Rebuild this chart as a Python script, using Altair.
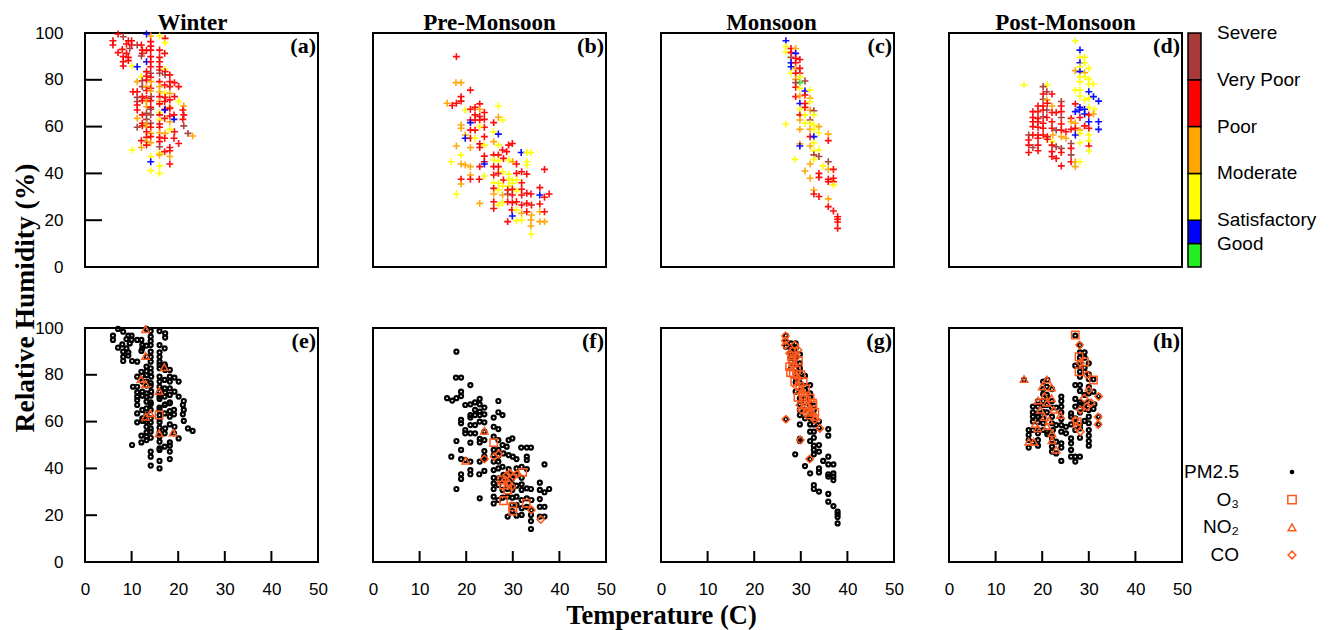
import altair as alt
import pandas as pd

# ---------------- data ----------------
SEASONS = ["Winter", "Pre-Monsoon", "Monsoon", "Post-Monsoon"]
TOP_TAGS = ["(a)", "(b)", "(c)", "(d)"]
BOT_TAGS = ["(e)", "(f)", "(g)", "(h)"]

CATS = ["Good", "Satisfactory", "Moderate", "Poor", "Very Poor", "Severe"]
CAT_COLORS = ["#22ee22", "#0000ff", "#ffff00", "#ffa500", "#ff0000", "#a83a3a"]
CAT_LO = [0, 50, 100, 200, 300, 400]
CAT_HI = [50, 100, 200, 300, 400, 500]
CODE = {"G": "Good", "SA": "Satisfactory", "M": "Moderate", "P": "Poor", "VP": "Very Poor", "S": "Severe"}

X_TICKS = [0, 10, 20, 30, 40, 50]
Y_TICKS = [0, 20, 40, 60, 80, 100]
X_INNER = [10, 20, 30, 40]
Y_INNER = [20, 40, 60, 80]

LEG_NAMES = ["PM2.5", "O\u2083", "NO\u2082", "CO"]

# (temperature, relative humidity, AQI category code)
WINTER = [
    (7.1, 99.6, "VP"), (8.2, 98.4, "S"), (13.2, 99.6, "SA"), (14.1, 98.7, "P"), (16.0, 98.7, "M"), (17.2, 97.7, "VP"),
    (6.0, 96.7, "VP"), (9.3, 96.7, "VP"), (10.0, 96.7, "VP"), (14.1, 96.3, "VP"), (17.2, 95.9, "M"),
    (6.0, 94.9, "VP"), (8.9, 95.3, "VP"), (10.0, 94.9, "VP"), (11.2, 94.9, "S"), (12.1, 94.9, "VP"), (14.1, 94.4, "VP"),
    (8.0, 93.0, "VP"), (9.6, 93.4, "S"), (12.3, 92.7, "VP"), (14.1, 92.7, "VP"), (16.0, 92.7, "VP"),
    (7.1, 91.6, "VP"), (8.9, 91.3, "VP"), (12.3, 91.3, "VP"), (13.2, 92.5, "VP"), (17.1, 91.3, "VP"),
    (8.2, 89.9, "VP"), (9.3, 89.6, "VP"), (12.1, 90.2, "S"), (14.1, 89.9, "VP"), (16.0, 89.6, "VP"),
    (8.2, 87.7, "VP"), (9.3, 88.2, "VP"), (13.2, 87.7, "SA"), (14.1, 87.7, "VP"), (16.0, 87.7, "VP"),
    (8.2, 85.9, "VP"), (10.1, 85.9, "M"), (11.2, 85.6, "SA"), (14.1, 85.6, "VP"), (16.0, 85.6, "VP"),
    (13.2, 83.5, "VP"), (14.1, 82.8, "S"), (16.0, 84.2, "VP"), (17.1, 84.5, "M"), (17.2, 83.5, "VP"),
    (12.1, 81.3, "M"), (13.2, 81.6, "VP"), (14.1, 81.1, "VP"), (16.0, 82.8, "S"), (17.2, 82.1, "S"), (18.2, 82.1, "VP"),
    (11.2, 79.2, "P"), (12.3, 79.6, "S"), (13.2, 79.9, "VP"), (14.2, 79.2, "P"), (16.0, 79.2, "VP"), (18.2, 79.2, "VP"), (19.2, 78.8, "VP"),
    (12.3, 77.1, "S"), (13.2, 77.1, "P"), (14.1, 76.4, "VP"), (16.0, 77.1, "P"), (17.1, 77.8, "VP"), (18.2, 77.1, "VP"), (20.1, 77.1, "VP"),
    (10.3, 74.9, "VP"), (11.2, 74.9, "VP"), (13.2, 75.4, "VP"), (14.1, 75.2, "P"), (16.0, 74.9, "P"), (17.1, 74.2, "M"), (18.2, 74.2, "P"),
    (11.2, 72.5, "S"), (12.3, 72.8, "VP"), (13.2, 72.1, "VP"), (14.2, 72.8, "S"), (16.0, 72.8, "VP"), (17.2, 72.5, "VP"), (19.2, 72.8, "VP"),
    (11.2, 70.7, "S"), (12.3, 71.1, "VP"), (13.2, 70.7, "P"), (14.1, 71.1, "VP"), (16.0, 70.7, "P"), (17.1, 70.7, "VP"), (18.2, 71.4, "VP"), (20.1, 70.7, "M"),
    (11.2, 69.2, "VP"), (13.2, 68.5, "P"), (14.1, 68.2, "VP"), (16.0, 69.7, "VP"), (17.2, 67.4, "VP"), (18.2, 68.2, "P"), (21.2, 68.8, "P"),
    (11.2, 67.1, "VP"), (14.1, 67.4, "S"), (16.0, 66.0, "M"), (17.1, 67.1, "SA"), (18.2, 67.8, "VP"), (21.0, 67.1, "VP"),
    (12.3, 65.0, "VP"), (13.2, 65.7, "S"), (14.1, 65.0, "S"), (16.0, 65.0, "VP"), (18.2, 64.5, "VP"), (19.1, 65.0, "VP"), (21.2, 65.0, "VP"),
    (11.2, 63.5, "P"), (13.2, 63.1, "S"), (16.0, 62.8, "M"), (17.1, 63.5, "VP"), (19.1, 63.1, "SA"), (21.0, 63.1, "VP"),
    (12.3, 61.4, "VP"), (13.2, 61.1, "P"), (14.1, 61.4, "S"), (16.0, 61.1, "VP"), (18.2, 62.1, "P"),
    (11.2, 59.7, "S"), (12.3, 60.3, "VP"), (13.2, 60.0, "P"), (14.1, 59.7, "VP"), (16.0, 59.7, "VP"), (21.2, 60.3, "S"),
    (13.2, 57.8, "VP"), (14.1, 57.1, "P"), (16.0, 57.4, "P"), (17.2, 57.1, "P"), (18.2, 58.8, "M"), (19.2, 57.8, "VP"), (22.1, 57.1, "S"), (23.1, 56.0, "P"),
    (13.2, 55.4, "VP"), (14.1, 55.7, "VP"), (16.0, 55.4, "VP"), (17.1, 55.0, "VP"), (19.1, 55.0, "VP"),
    (12.1, 54.0, "VP"), (13.2, 53.6, "P"), (14.1, 53.1, "P"), (16.0, 53.6, "VP"), (20.1, 52.8, "VP"),
    (12.1, 51.1, "P"), (13.2, 52.1, "VP"), (16.0, 51.4, "S"), (18.2, 51.1, "VP"),
    (10.1, 50.0, "M"), (16.0, 48.6, "M"), (17.1, 49.3, "VP"), (18.2, 49.7, "VP"),
    (14.1, 47.2, "M"), (16.0, 47.9, "P"), (18.2, 47.2, "P"),
    (14.1, 45.0, "SA"), (18.2, 44.0, "VP"), (16.0, 43.2, "M"), (14.1, 41.2, "M"), (16.0, 40.0, "M"),
]

PRE_MONSOON = [
    (17.9, 89.9, "VP"), (17.8, 78.8, "P"), (18.9, 78.8, "P"), (20.9, 75.6, "VP"),
    (18.9, 72.8, "VP"), (18.9, 70.9, "VP"), (15.9, 70.0, "P"), (17.0, 69.0, "VP"), (17.9, 70.0, "VP"),
    (19.8, 67.1, "M"), (20.9, 67.4, "VP"), (21.9, 68.2, "VP"), (22.9, 69.7, "VP"), (22.9, 67.4, "P"), (23.9, 66.0, "VP"), (26.9, 68.8, "M"),
    (21.9, 65.0, "VP"), (22.9, 64.3, "VP"), (20.9, 62.8, "VP"), (21.9, 62.8, "VP"), (22.9, 62.8, "VP"), (23.9, 63.1, "VP"), (26.9, 64.0, "P"), (27.8, 62.8, "M"),
    (20.9, 61.7, "SA"), (18.9, 60.7, "P"), (25.9, 61.7, "VP"),
    (18.9, 59.3, "P"), (21.9, 58.5, "VP"), (20.9, 58.5, "VP"), (23.9, 59.7, "VP"), (22.9, 60.0, "M"),
    (19.8, 56.4, "P"), (19.8, 55.0, "SA"), (20.9, 55.0, "VP"), (21.9, 55.0, "M"), (23.9, 55.7, "VP"), (26.9, 56.8, "SA"), (25.9, 57.8, "M"),
    (22.9, 52.6, "VP"), (23.9, 52.1, "M"), (22.9, 51.1, "VP"), (25.9, 53.6, "P"), (26.9, 52.1, "M"), (29.1, 52.1, "VP"), (29.9, 52.8, "VP"),
    (17.9, 51.7, "P"), (20.9, 51.0, "P"), (18.9, 47.9, "M"), (16.8, 45.0, "M"), (18.9, 44.0, "P"),
    (23.9, 47.4, "VP"), (25.9, 47.9, "VP"), (26.9, 47.9, "VP"), (27.8, 50.0, "VP"), (28.7, 49.3, "VP"), (23.9, 45.0, "VP"),
    (25.9, 45.7, "M"), (26.9, 45.4, "M"), (28.0, 46.4, "VP"), (29.1, 45.7, "M"),
    (31.8, 48.9, "SA"), (33.0, 48.9, "M"), (33.9, 48.9, "M"),
    (19.8, 43.6, "P"), (20.9, 42.9, "P"), (22.9, 42.9, "VP"), (23.9, 44.0, "SA"), (25.9, 42.9, "VP"), (26.9, 42.9, "VP"),
    (30.0, 45.0, "P"), (30.8, 44.0, "VP"), (33.0, 45.0, "M"), (33.0, 43.6, "M"),
    (20.9, 39.3, "P"), (20.9, 37.5, "VP"), (23.9, 38.9, "M"), (22.8, 37.5, "VP"), (25.9, 39.3, "VP"), (26.9, 40.0, "VP"),
    (27.8, 40.7, "M"), (29.1, 39.7, "M"), (30.8, 40.0, "VP"), (31.9, 40.7, "VP"), (33.0, 39.7, "VP"),
    (18.9, 37.5, "VP"), (18.9, 35.5, "P"), (17.9, 31.2, "M"),
    (25.9, 36.0, "M"), (26.9, 35.8, "M"), (28.0, 37.2, "VP"), (29.1, 37.5, "M"), (29.9, 37.2, "M"), (30.8, 37.2, "M"),
    (31.9, 36.0, "VP"), (27.8, 34.6, "M"), (29.1, 34.6, "M"), (29.9, 35.8, "M"),
    (25.9, 33.6, "VP"), (26.9, 32.9, "M"), (28.9, 32.9, "VP"), (29.9, 33.2, "VP"), (30.8, 32.6, "M"), (31.9, 33.2, "VP"),
    (33.0, 31.5, "VP"), (33.9, 31.2, "VP"), (36.8, 41.7, "VP"),
    (25.9, 31.2, "P"), (27.8, 30.8, "P"), (28.9, 31.2, "S"), (29.9, 30.8, "VP"), (31.9, 30.8, "VP"),
    (35.8, 33.9, "VP"), (35.8, 30.8, "SA"), (36.8, 29.8, "VP"), (37.8, 31.2, "VP"),
    (25.9, 27.9, "VP"), (25.9, 25.0, "VP"), (26.9, 26.5, "M"), (27.8, 27.5, "M"), (28.9, 27.9, "VP"), (29.9, 27.5, "VP"),
    (30.8, 27.9, "VP"), (31.9, 26.5, "VP"), (33.0, 27.2, "VP"), (34.0, 26.5, "VP"), (35.8, 26.9, "VP"),
    (22.9, 27.2, "P"), (29.8, 24.4, "VP"), (30.8, 24.4, "M"), (31.9, 23.0, "P"), (33.0, 23.6, "VP"), (34.0, 22.2, "P"),
    (35.8, 23.6, "P"), (36.8, 23.6, "VP"),
    (29.9, 21.8, "SA"), (28.9, 19.4, "VP"), (30.8, 19.8, "M"), (31.9, 20.1, "M"), (33.9, 20.1, "P"), (35.8, 19.4, "P"),
    (36.8, 19.4, "P"), (33.9, 17.5, "P"), (33.9, 14.1, "M"),
]

MONSOON = [
    (26.8, 96.7, "SA"), (26.8, 94.2, "M"), (26.8, 92.0, "M"), (27.9, 93.4, "VP"), (28.9, 93.4, "P"),
    (27.9, 91.6, "VP"), (28.9, 91.3, "SA"), (27.9, 89.6, "S"), (28.9, 89.2, "VP"), (29.8, 88.7, "VP"),
    (27.9, 87.3, "SA"), (28.9, 87.3, "VP"), (27.9, 85.6, "SA"), (28.9, 84.9, "P"), (29.8, 84.9, "VP"),
    (27.9, 82.8, "M"), (28.9, 82.8, "VP"), (29.8, 82.8, "VP"), (29.8, 81.3, "M"), (28.9, 80.2, "P"), (29.8, 78.8, "G"), (30.9, 79.5, "S"),
    (28.9, 78.8, "S"), (28.9, 76.8, "VP"), (29.8, 76.4, "M"), (30.9, 75.2, "SA"), (32.0, 75.6, "M"),
    (28.9, 72.8, "VP"), (29.8, 73.1, "P"), (30.9, 73.5, "VP"), (32.0, 72.1, "P"),
    (29.8, 69.9, "SA"), (30.9, 69.9, "VP"), (32.0, 70.6, "M"),
    (30.9, 68.2, "VP"), (29.8, 67.4, "M"), (32.0, 67.1, "P"), (32.8, 66.8, "S"), (32.8, 65.0, "M"),
    (29.8, 65.0, "VP"), (30.9, 65.0, "M"), (29.8, 62.8, "P"), (32.0, 62.8, "S"), (30.9, 61.4, "M"), (32.0, 61.4, "M"),
    (26.8, 61.0, "M"), (29.8, 58.8, "P"), (32.0, 58.8, "P"), (32.8, 60.7, "M"), (33.9, 60.0, "P"), (32.8, 58.8, "M"), (33.9, 57.4, "M"),
    (32.0, 55.7, "VP"), (32.8, 55.7, "SA"), (35.9, 56.8, "P"), (35.9, 54.0, "VP"),
    (29.8, 52.6, "P"), (29.8, 51.7, "SA"), (32.0, 51.7, "P"), (32.8, 53.1, "M"),
    (32.8, 49.7, "M"), (33.9, 50.0, "M"), (32.8, 47.9, "S"), (33.9, 47.2, "S"), (32.8, 46.0, "M"),
    (28.8, 46.0, "M"), (32.0, 44.0, "P"), (34.8, 43.2, "M"), (35.9, 45.0, "S"), (35.9, 41.7, "P"), (37.0, 41.7, "VP"),
    (30.9, 41.0, "P"), (33.9, 40.0, "VP"), (33.9, 38.3, "VP"), (32.0, 37.9, "P"), (35.9, 37.5, "VP"), (37.0, 37.9, "VP"),
    (35.9, 36.5, "VP"), (37.0, 36.5, "VP"), (37.0, 35.0, "M"),
    (32.8, 32.9, "P"), (32.8, 31.2, "VP"), (33.9, 30.1, "VP"), (35.9, 29.1, "P"),
    (35.9, 25.8, "VP"), (37.0, 23.9, "VP"),
    (37.9, 21.5, "VP"), (37.9, 20.4, "VP"), (37.9, 19.2, "VP"), (37.9, 16.5, "VP"),
]

POST_MONSOON = [
    (27.1, 96.7, "M"), (28.1, 92.7, "SA"), (28.1, 89.6, "M"), (29.1, 89.6, "M"),
    (28.1, 87.3, "SA"), (29.1, 87.3, "M"), (28.1, 85.6, "M"), (30.0, 84.9, "M"),
    (27.1, 83.9, "P"), (28.1, 83.5, "SA"), (29.1, 83.0, "P"),
    (28.1, 81.3, "M"), (29.1, 81.3, "M"), (30.0, 80.2, "M"), (28.1, 79.2, "M"), (30.0, 78.2, "M"), (31.0, 78.1, "M"),
    (16.1, 77.8, "M"), (21.1, 77.8, "M"), (20.2, 77.1, "S"),
    (27.1, 75.6, "M"), (28.1, 75.6, "M"), (30.0, 74.9, "SA"), (21.0, 74.9, "S"), (22.1, 73.9, "VP"), (20.2, 73.9, "VP"),
    (28.1, 73.1, "M"), (30.0, 72.1, "M"), (31.0, 72.8, "SA"), (32.1, 70.9, "SA"), (29.1, 71.4, "M"),
    (20.2, 71.7, "S"), (21.0, 71.4, "P"), (21.1, 70.0, "VP"), (24.1, 70.7, "S"), (24.1, 68.8, "VP"),
    (19.1, 68.8, "VP"), (20.2, 68.8, "VP"), (22.1, 68.8, "P"),
    (27.1, 69.7, "VP"), (28.1, 68.2, "SA"), (29.1, 67.4, "SA"), (30.0, 68.2, "M"), (31.2, 67.4, "M"),
    (18.0, 66.4, "VP"), (19.1, 66.4, "VP"), (20.2, 67.1, "VP"), (21.0, 67.1, "S"), (22.1, 66.0, "VP"), (23.0, 66.0, "VP"), (24.1, 66.4, "VP"),
    (27.1, 66.4, "SA"), (28.0, 67.1, "SA"), (29.1, 65.4, "SA"), (30.0, 65.0, "VP"), (31.0, 65.4, "P"),
    (18.0, 63.9, "VP"), (19.1, 63.5, "VP"), (20.2, 64.2, "S"), (21.0, 63.9, "VP"), (24.1, 63.9, "S"), (26.2, 63.5, "VP"), (28.1, 63.9, "VP"),
    (18.0, 62.1, "VP"), (19.1, 62.1, "VP"), (20.2, 61.4, "VP"), (22.1, 62.1, "VP"), (24.1, 61.1, "VP"), (26.2, 62.1, "P"), (27.1, 61.4, "P"),
    (30.0, 62.1, "SA"), (32.1, 62.1, "SA"), (32.1, 58.8, "SA"), (29.1, 60.3, "VP"), (30.0, 59.3, "VP"),
    (18.0, 60.0, "VP"), (19.1, 59.7, "VP"), (20.2, 59.3, "VP"), (22.1, 59.3, "VP"), (23.0, 58.5, "S"), (24.1, 58.5, "VP"),
    (25.1, 57.8, "VP"), (26.2, 58.8, "VP"), (27.1, 59.3, "VP"), (28.1, 58.5, "P"),
    (17.1, 56.4, "S"), (18.0, 56.4, "VP"), (19.1, 56.4, "VP"), (20.2, 56.4, "VP"), (21.1, 55.7, "VP"), (22.3, 56.4, "P"),
    (24.1, 55.7, "P"), (25.1, 55.0, "P"), (27.1, 56.4, "SA"), (28.1, 57.1, "M"), (30.0, 56.4, "M"),
    (17.1, 54.3, "VP"), (19.1, 55.0, "VP"), (21.1, 54.6, "VP"), (22.1, 53.6, "M"), (26.2, 52.8, "S"), (28.1, 53.1, "M"), (30.0, 54.0, "M"),
    (17.1, 52.1, "VP"), (18.0, 51.1, "S"), (19.1, 52.1, "VP"), (22.1, 52.1, "VP"), (23.0, 51.4, "S"), (24.1, 50.7, "S"),
    (26.2, 50.7, "VP"), (30.0, 51.7, "VP"),
    (17.1, 48.9, "VP"), (19.1, 49.7, "VP"), (22.1, 49.3, "VP"), (24.1, 48.9, "VP"), (26.2, 47.9, "S"), (30.0, 49.7, "M"),
    (22.1, 47.2, "VP"), (23.0, 46.4, "VP"), (26.2, 45.0, "VP"), (27.1, 45.0, "P"), (28.1, 45.0, "M"), (24.1, 43.2, "VP"), (27.1, 42.9, "P"),
]

# bottom-row pollutant overlays: (temperature, relative humidity)
WINTER_O3 = [(15.9, 62.8)]
WINTER_NO2 = [(13.0, 99.5), (13.0, 88.0), (17.0, 83.2), (12.0, 78.2), (13.0, 76.1), (15.9, 73.1),
              (14.0, 63.5), (13.0, 62.1), (15.9, 55.0), (18.9, 55.3)]
WINTER_CO = []

PRE_O3 = [(25.9, 51.0), (32.1, 38.3), (28.0, 32.9), (28.9, 30.8), (28.0, 26.2), (30.0, 23.6), (30.0, 21.8),
          (32.9, 25.1), (27.6, 35.0)]
PRE_NO2 = [(23.9, 56.1), (19.9, 43.3)]
PRE_CO = [(23.9, 44.0), (26.0, 45.0), (27.0, 46.2), (28.7, 37.2), (29.4, 37.9), (30.1, 36.5), (30.9, 37.6),
          (28.4, 35.0), (29.1, 33.6), (29.8, 32.2), (34.0, 22.2), (36.0, 18.2)]

MON_O3 = [(27.6, 83.5), (28.4, 80.6), (29.1, 82.0), (28.7, 77.0), (29.8, 75.0), (29.4, 70.4), (30.9, 69.2),
          (32.6, 67.1), (31.9, 62.8), (28.0, 88.0), (28.3, 85.0), (27.8, 81.0), (30.5, 71.0), (31.0, 67.0),
          (28.5, 90.0), (29.5, 86.0), (30.0, 80.0), (30.5, 77.0), (31.0, 74.0), (32.0, 70.0), (32.5, 68.0),
          (31.5, 64.0), (33.0, 64.0)]
MON_NO2 = [(29.0, 80.0), (30.3, 73.5), (32.3, 64.5), (33.3, 62.0), (31.5, 70.0)]
MON_CO = [(26.7, 96.6), (26.7, 94.6), (26.7, 92.6), (28.7, 92.7), (29.4, 90.6), (27.6, 89.2), (29.1, 87.7),
          (28.0, 86.3), (28.4, 84.2), (29.4, 78.5), (30.1, 72.0), (29.8, 67.1), (31.6, 66.4), (30.1, 65.0),
          (33.0, 60.7), (34.1, 57.1), (26.8, 61.0), (29.9, 52.1), (31.9, 44.0), (29.1, 75.0)]

POST_O3 = [(27.1, 97.0), (27.9, 87.7), (29.1, 85.5), (31.0, 77.8), (27.9, 81.3), (27.5, 60.0)]
POST_NO2 = [(16.1, 78.2), (21.0, 78.0), (20.0, 75.0), (22.0, 74.6), (19.1, 69.0), (21.0, 68.0), (19.6, 65.0),
            (22.5, 65.0), (23.9, 62.8), (19.0, 57.0), (21.0, 58.0), (22.1, 55.0), (17.1, 51.4), (18.2, 51.4),
            (22.1, 52.0), (23.0, 48.0), (20.5, 71.0), (21.5, 60.5), (18.5, 59.0), (20.5, 62.0), (22.0, 70.0)]
POST_CO = [(28.0, 92.7), (28.2, 85.0), (29.6, 80.0), (32.1, 70.7), (32.0, 62.0), (32.0, 58.8), (30.0, 73.5),
           (29.6, 66.4), (28.2, 65.0), (27.1, 60.7), (27.5, 57.8), (28.2, 55.7), (29.0, 70.0), (30.5, 68.0)]

SEASON_DATA = [WINTER, PRE_MONSOON, MONSOON, POST_MONSOON]
O3_DATA = [WINTER_O3, PRE_O3, MON_O3, POST_O3]
NO2_DATA = [WINTER_NO2, PRE_NO2, MON_NO2, POST_NO2]
CO_DATA = [WINTER_CO, PRE_CO, MON_CO, POST_CO]

# ---------------- styling ----------------
W, H = 233, 234
SERIF = "Liberation Serif"
SANS = "Liberation Sans"
ORANGE = "#ff5a1e"
PLUS = "M-1,0L1,0M0,-1L0,1"
TITLE_DX = [-9, 0, -6, 0]


def XS():
    return alt.Scale(domain=[0, 50], nice=False, zero=False)


def YS():
    return alt.Scale(domain=[0, 100], nice=False, zero=False)


def x_axis(title=None):
    kw = dict(values=X_TICKS, domain=False, ticks=False, tickSize=0, grid=False, labelFont=SANS,
              labelFontSize=17, labelColor="black", labelPadding=19, labelFlush=False, labelOverlap=False)
    if title:
        kw.update(title=title, titleFont=SERIF, titleFontWeight="bold", titleFontSize=26.5, titleColor="black",
                  titleX=0, titleY=53, titleBaseline="middle", titleAlign="center")
    else:
        kw["title"] = None
    return alt.Axis(**kw)


def y_axis(title=None):
    kw = dict(values=Y_TICKS, domain=False, ticks=False, tickSize=0, grid=False, labelFont=SANS,
              labelFontSize=17, labelColor="black", labelPadding=22, labelFlush=False, labelOverlap=False)
    if title:
        kw.update(title=title, titleFont=SERIF, titleFontWeight="bold", titleFontSize=27.5, titleColor="black",
                  titleX=-60, titleY=-30.5, titleAngle=270, titleBaseline="middle", titleAlign="center")
    else:
        kw["title"] = None
    return alt.Axis(**kw)


def tag_layer(tag, xa, ya):
    return alt.Chart(pd.DataFrame({"tag": [tag]})).mark_text(
        font=SERIF, fontWeight="bold", fontSize=22, align="right", baseline="top", dx=-2, dy=3, color="black"
    ).encode(
        x=alt.XDatum(50, scale=XS(), axis=xa),
        y=alt.YDatum(100, scale=YS(), axis=ya),
        text="tag:N",
    )


def season_title_layer(name, dx, xa):
    return alt.Chart(pd.DataFrame({"season": [name]})).mark_text(
        font=SERIF, fontWeight="bold", fontSize=23, align="center", baseline="alphabetic", color="black", dx=dx
    ).encode(
        x=alt.XDatum(25, scale=XS(), axis=xa),
        y=alt.value(-3),
        text="season:N",
    )


def y_tick_layer(length, ya):
    return alt.Chart(pd.DataFrame({"v": Y_INNER})).mark_rule(color="black", strokeWidth=2).encode(
        y=alt.Y("v:Q", scale=YS(), axis=ya), x=alt.value(0), x2=alt.value(length))


def x_tick_layer(length, xa):
    return alt.Chart(pd.DataFrame({"v": X_INNER})).mark_rule(color="black", strokeWidth=2).encode(
        x=alt.X("v:Q", scale=XS(), axis=xa), y=alt.value(H), y2=alt.value(H - length))


def season_df(i):
    df = pd.DataFrame(SEASON_DATA[i], columns=["T", "RH", "code"])
    df["cat"] = df["code"].map(CODE)
    return df


def top_panel(i):
    df = season_df(i)
    xa = None
    ya = y_axis() if i == 0 else None
    pts = alt.Chart(df).mark_point(shape=PLUS, filled=False, strokeWidth=1.6, size=48, opacity=0.95).encode(
        x=alt.X("T:Q", scale=XS(), axis=xa),
        y=alt.Y("RH:Q", scale=YS(), axis=ya),
        color=alt.Color("cat:N", scale=alt.Scale(domain=CATS, range=CAT_COLORS), legend=None),
    )
    layers = [pts, tag_layer(TOP_TAGS[i], xa, ya), season_title_layer(SEASONS[i], TITLE_DX[i], xa)]
    if i == 0:
        layers.append(y_tick_layer(17, ya))
    main = alt.layer(*layers)
    if i == 3:
        cb = pd.DataFrame({"cat": CATS, "lo": CAT_LO, "hi": CAT_HI})
        cscale = alt.Scale(domain=[0, 500], nice=False, zero=True)
        rect = alt.Chart(cb).mark_rect(stroke="black", strokeWidth=1.5).encode(
            y=alt.Y("lo:Q", scale=cscale, axis=None), y2="hi:Q",
            x=alt.value(239), x2=alt.value(252),
            color=alt.Color("cat:N", scale=alt.Scale(domain=CATS, range=CAT_COLORS), legend=None),
        )
        txt = alt.Chart(cb).mark_text(align="left", baseline="middle", font=SANS, fontSize=19, color="black").encode(
            y=alt.Y("hi:Q", scale=cscale, axis=None), x=alt.value(268), text="cat:N")
        main = alt.layer(main, alt.layer(rect, txt)).resolve_scale(y="independent")
    return main.properties(width=W, height=H)


def pts_df(lst):
    return pd.DataFrame(lst, columns=["T", "RH"])


def bottom_panel(i):
    df = season_df(i)
    xa = x_axis("Temperature (C)" if i == 2 else None)
    ya = y_axis("Relative Humidity (%)") if i == 0 else None
    pm = alt.Chart(df).mark_point(shape="circle", filled=False, strokeWidth=2.2, size=16, color="black",
                                  opacity=1).encode(
        x=alt.X("T:Q", scale=XS(), axis=xa),
        y=alt.Y("RH:Q", scale=YS(), axis=ya),
    )
    layers = [pm]
    for lst, shape, size in [(O3_DATA[i], "square", 55), (NO2_DATA[i], "triangle-up", 55), (CO_DATA[i], "diamond", 55)]:
        if lst:
            layers.append(alt.Chart(pts_df(lst)).mark_point(shape=shape, filled=False, strokeWidth=1.5, size=size,
                                                            color=ORANGE, opacity=1).encode(
                x=alt.X("T:Q", scale=XS(), axis=xa), y=alt.Y("RH:Q", scale=YS(), axis=ya)))
    layers.append(tag_layer(BOT_TAGS[i], xa, ya))
    layers.append(x_tick_layer(11, xa))
    if i == 0:
        layers.append(y_tick_layer(12, ya))
    main = alt.layer(*layers)
    if i == 3:
        leg = pd.DataFrame({"name": LEG_NAMES})
        ly = alt.Y("name:N", scale=alt.Scale(type="point", domain=LEG_NAMES, range=[144, 227], padding=0), axis=None)
        txt = alt.Chart(leg).mark_text(align="right", baseline="middle", font=SANS, fontSize=19, color="black").encode(
            y=ly, x=alt.value(290), text="name:N")
        sym_specs = [
            (LEG_NAMES[0], dict(shape="circle", filled=True, size=22, color="black")),
            (LEG_NAMES[1], dict(shape="square", filled=False, size=70, color=ORANGE, strokeWidth=1.5)),
            (LEG_NAMES[2], dict(shape="triangle-up", filled=False, size=60, color=ORANGE, strokeWidth=1.5)),
            (LEG_NAMES[3], dict(shape="diamond", filled=False, size=60, color=ORANGE, strokeWidth=1.5)),
        ]
        syms = [alt.Chart(pd.DataFrame({"name": [n]})).mark_point(opacity=1, **kw).encode(y=ly, x=alt.value(343))
                for n, kw in sym_specs]
        main = alt.layer(main, alt.layer(txt, *syms)).resolve_scale(y="independent")
    return main.properties(width=W, height=H)


panels = [top_panel(i) for i in range(4)] + [bottom_panel(i) for i in range(4)]

chart = alt.concat(*panels, columns=4, spacing={"row": 61, "column": 55}, bounds="flush").resolve_scale(
    color="independent"
).configure_view(stroke="black", strokeWidth=2).properties(
    padding={"left": 1, "top": 3, "right": 0, "bottom": 0}, background="white"
)

chart.save("out.html", embed_options={"renderer": "svg", "actions": False})
